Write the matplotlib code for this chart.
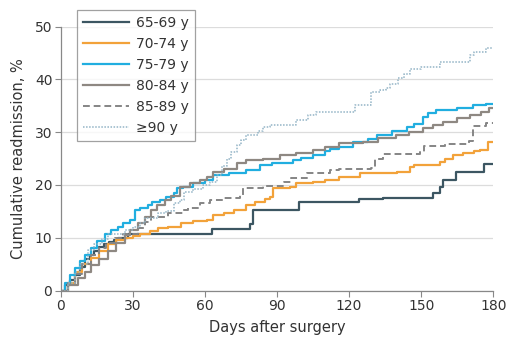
import matplotlib
matplotlib.use("Agg")
import matplotlib.pyplot as plt

plt.rcParams['font.family'] = ['DejaVu Sans']

# ---------------- data (step points: day, cumulative %) ----------------
d_65 = [0, 2, 4, 6, 8, 10, 12, 14, 16, 18, 20, 22, 24, 28, 63, 78.7, 80, 99, 124, 134, 155, 157.7, 159, 164.5, 176, 180]
v_65 = [0, 1, 2, 3, 4.5, 6, 6.8, 7.5, 8.3, 8.8, 9.2, 9.6, 10, 10.7, 11.6, 12.6, 15.2, 16.8, 17.3, 17.6, 18.4, 19.7, 20.9, 22.5, 24, 24]

d_70 = [0, 3, 6, 9, 12.7, 16, 19.5, 23, 26.6, 30, 33, 37, 40.5, 44.6, 50, 55, 60.7, 63.5, 68, 72, 77.3, 81, 85, 87, 88.4,
        95.3, 98, 105, 110, 116, 124.4, 140, 145.2, 147, 157.7, 160, 163.2, 167.4, 172, 174.3, 177.8, 180]
v_70 = [0, 1.5, 3.6, 5, 6.1, 7.5, 8.9, 9.5, 10, 10.4, 10.8, 11.2, 11.8, 12.1, 12.7, 13.1, 13.4, 14.3, 14.7, 15.2, 16.2, 16.8, 17.3, 17.8, 19.4,
        19.6, 20.3, 20.6, 20.9, 21.6, 22.2, 22.4, 23.4, 23.8, 24.4, 25, 25.7, 26, 26.4, 26.6, 28.2, 28.2]

d_75 = [0, 2, 4, 5.8, 8, 10, 12.7, 15, 18.3, 21, 23.8, 26, 28.7, 30.8, 33, 36.3, 38, 41.3, 44, 47, 48.2, 51, 55, 60, 63.5, 70,
        77.3, 82.9, 88, 96.7, 100, 105, 110, 112, 116, 121.7, 128, 131.4, 138, 143.9, 147, 150.8, 153, 156.3, 164.7, 171.6, 177, 180]
v_75 = [0, 1.5, 3, 4.2, 5.5, 6.8, 8, 9.3, 10.8, 11.5, 12.1, 12.7, 13.4, 15.2, 15.7, 16.2, 16.8, 17.1, 17.8, 18.4, 19.4, 19.7, 20.3, 20.9, 21.9, 22.3,
        22.8, 23.8, 24.1, 24.7, 25.2, 25.7, 26.4, 26.9, 27.2, 28.2, 28.7, 29.5, 30.2, 31, 31.6, 32.9, 33.6, 34.2, 34.6, 35.1, 35.3, 35.3]

d_80 = [0, 3, 7.2, 10, 12.7, 16, 19.7, 23, 26.6, 29, 32, 35, 37.7, 40, 43.2, 46, 49.6, 54, 57.9, 61, 63.5, 68, 73.2, 77.3,
        84, 91.2, 98, 105, 110, 116, 125.8, 132, 139.7, 145, 150.8, 155, 159, 165, 170.2, 175, 178, 180]
v_80 = [0, 1, 2.3, 3.6, 4.8, 6, 7.4, 9, 10.5, 11.5, 12.7, 14, 15.2, 16.2, 17.1, 18, 19.7, 20.3, 20.9, 21.6, 22.5, 23.1, 24.1, 24.7,
        25, 25.7, 26.1, 26.6, 27.2, 27.9, 28.2, 28.9, 29.5, 30.1, 30.7, 31.4, 32, 32.6, 33.2, 33.9, 34.5, 34.5]

d_85 = [0, 3, 6, 9, 12.7, 16, 19, 22.4, 26, 32, 35, 37.7, 44.6, 51, 53, 57.9, 62, 68, 74.6, 76, 84, 93, 96, 102.3, 112, 116,
        129.3, 130.7, 134, 149.4, 151, 160, 170, 171.5, 177, 180]
v_85 = [0, 1.5, 3.2, 5, 6.7, 8, 9, 9.9, 10.8, 11.8, 13, 14, 14.6, 15.2, 15.6, 16.6, 17.1, 17.6, 18.1, 19.5, 19.8, 20.5, 21.4, 22.2, 22.8, 23.1,
        23.3, 25, 25.9, 26.3, 27.4, 27.8, 28.4, 31.2, 31.8, 31.8]

d_90 = [0, 3, 6, 8, 11.4, 14, 17, 19.7, 26.6, 30, 33, 35, 40.5, 44, 47, 49.6, 51.5, 55, 59.3, 62, 64.9, 67, 69, 71, 73.2, 75,
        77.3, 82, 84.2, 87, 98, 103, 106.4, 122.4, 129.3, 133, 135.5, 137, 140.4, 143, 145.2, 150, 157.7, 170.2, 172, 177, 180]
v_90 = [0, 1.5, 3.5, 5, 7.7, 8.8, 9.8, 10.8, 11.5, 12, 12.8, 13.7, 14.6, 15, 16.5, 17.1, 18.7, 19.2, 20, 20.6, 21.9, 23.5, 25, 26.3, 27.6, 28.6,
        29.5, 30.2, 31, 31.4, 32.3, 33.2, 33.9, 35.1, 37.6, 38, 38.3, 39.2, 40.2, 41, 41.9, 42.4, 43.3, 44.6, 45.2, 45.9, 45.9]

labels = ["65-69 y", "70-74 y", "75-79 y", "80-84 y", "85-89 y", "\u226590 y"]
x_ticks = [0, 30, 60, 90, 120, 150, 180]
y_ticks = [0, 10, 20, 30, 40, 50]

# ---------------- figure ----------------
fig = plt.figure(figsize=(5.07, 3.41), dpi=100)
ax = fig.add_axes([0.1197, 0.148, 0.8533, 0.774])

series = [
    (d_65, v_65, dict(color="#3c5662", lw=1.6, ls="-")),
    (d_70, v_70, dict(color="#f2a23a", lw=1.6, ls="-")),
    (d_75, v_75, dict(color="#21aee0", lw=1.6, ls="-")),
    (d_80, v_80, dict(color="#8e8882", lw=1.6, ls="-")),
    (d_85, v_85, dict(color="#858585", lw=1.4, ls=(0, (3.5, 2)))),
    (d_90, v_90, dict(color="#93b4c6", lw=1.1, ls=(0, (1, 1)))),
]
for (d, v, st), lab in zip(series, labels):
    ax.plot(d, v, drawstyle="steps-post", label=lab, **st)

ax.set_xlim(0, 180)
ax.set_ylim(0, 50)
ax.set_xticks(x_ticks)
ax.set_yticks(y_ticks)
ax.tick_params(axis="both", direction="out", length=4, width=0.8, color="#888888",
               labelsize=10, labelcolor="#333333", pad=2)
for side in ("top", "right"):
    ax.spines[side].set_visible(False)
for side in ("left", "bottom"):
    ax.spines[side].set_color("#888888")
    ax.spines[side].set_linewidth(0.9)
ax.grid(axis="y", color="#dcdcdc", linewidth=0.9)
ax.set_axisbelow(True)

ax.set_xlabel("Days after surgery", fontsize=10.5, color="#333333", labelpad=5)
ax.set_ylabel("Cumulative readmission, %", fontsize=10.5, color="#333333", labelpad=6)

leg = ax.legend(loc="upper left", bbox_to_anchor=(0.037, 1.063), borderaxespad=0, fontsize=10,
                frameon=True, fancybox=False, edgecolor="#8a8a8a", handlelength=3.3,
                handletextpad=0.5, borderpad=0.45, labelspacing=0.5)
leg.get_frame().set_linewidth(0.9)
for t in leg.get_texts():
    t.set_color("#333333")

fig.savefig("out.png", dpi=100)
